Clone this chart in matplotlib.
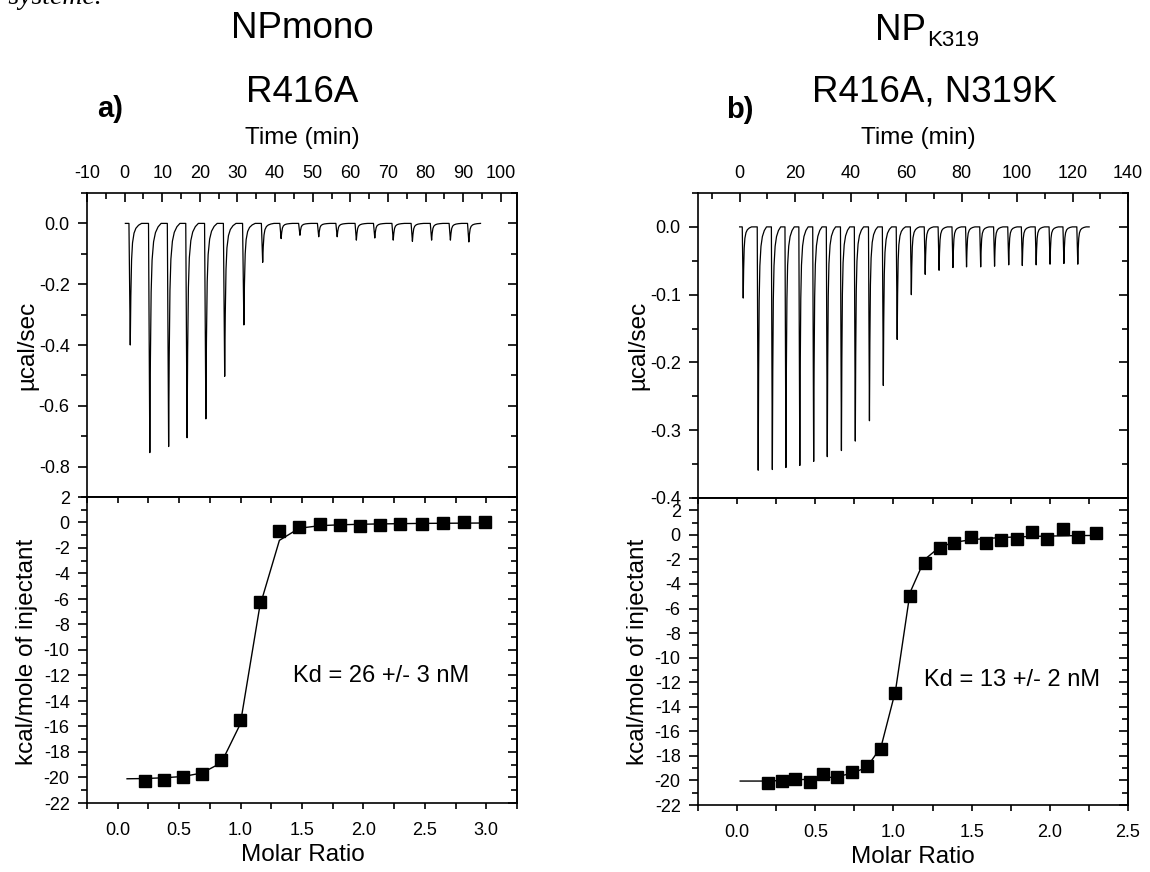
import matplotlib
matplotlib.use("Agg")
import matplotlib.pyplot as plt
from matplotlib.ticker import MultipleLocator

plt.rcParams['font.family'] = ['Liberation Sans', 'DejaVu Sans']
plt.rcParams['axes.unicode_minus'] = False

# ---------------- data ----------------
# panel a) raw thermogram: injection times (min) and peak depths (ucal/sec)
a_trace_span = [0.2, 94.6]
a_inj_time = [1.5, 6.7, 11.7, 16.6, 21.6, 26.6, 31.7, 36.7, 41.6, 46.6,
              51.6, 56.5, 61.6, 66.5, 71.4, 76.5, 81.6, 86.6, 91.5]
a_inj_depth = [-0.40, -0.754, -0.734, -0.705, -0.643, -0.503, -0.334, -0.128,
               -0.050, -0.039, -0.044, -0.044, -0.055, -0.048, -0.055, -0.059,
               -0.055, -0.055, -0.061]

# panel a) integrated heats
a_ratio = [0.226, 0.375, 0.533, 0.685, 0.843, 0.998, 1.156, 1.316, 1.477,
           1.645, 1.811, 1.974, 2.138, 2.301, 2.475, 2.646, 2.818, 2.986]
a_heat = [-20.3, -20.2, -19.95, -19.7, -18.6, -15.5, -6.2, -0.7, -0.37,
          -0.13, -0.18, -0.24, -0.18, -0.08, -0.08, -0.03, 0.05, 0.0]
a_fit_ratio = [0.076, 0.226, 0.375, 0.533, 0.685, 0.843, 0.998, 1.156, 1.316,
               1.477, 1.645, 1.811, 1.974, 2.138, 2.301, 2.475, 2.646, 2.818, 2.986]
a_fit_heat = [-20.1, -20.08, -20.02, -19.92, -19.65, -18.85, -15.8, -6.6, -1.4,
              -0.45, -0.25, -0.18, -0.14, -0.11, -0.09, -0.07, -0.06, -0.05, -0.04]

# panel b) raw thermogram
b_trace_span = [0.0, 126.0]
b_inj_time = [1.3, 6.7, 11.8, 16.7, 21.7, 26.7, 31.6, 36.7, 41.7, 46.8,
              51.8, 56.8, 61.9, 66.9, 71.9, 76.9, 81.8, 86.9, 91.9, 97.0,
              101.9, 106.9, 111.9, 116.9, 121.9]
b_inj_depth = [-0.105, -0.359, -0.358, -0.355, -0.352, -0.346, -0.339, -0.330,
               -0.316, -0.286, -0.234, -0.166, -0.100, -0.070, -0.064, -0.060,
               -0.059, -0.059, -0.058, -0.056, -0.057, -0.056, -0.055, -0.054,
               -0.055]

# panel b) integrated heats
b_ratio = [0.198, 0.287, 0.371, 0.466, 0.552, 0.642, 0.735, 0.828, 0.920,
           1.013, 1.106, 1.200, 1.295, 1.390, 1.498, 1.593, 1.688, 1.787,
           1.886, 1.985, 2.084, 2.183, 2.295]
b_heat = [-20.2, -20.05, -19.9, -20.1, -19.5, -19.7, -19.3, -18.85, -17.4,
          -12.9, -4.97, -2.3, -1.1, -0.7, -0.16, -0.63, -0.38, -0.33, 0.27,
          -0.3, 0.44, -0.14, 0.14]
b_fit_ratio = [0.02, 0.198, 0.287, 0.371, 0.466, 0.552, 0.642, 0.735, 0.828,
               0.920, 1.013, 1.106, 1.200, 1.295, 1.390, 1.498, 1.593, 1.688,
               1.787, 1.886, 1.985, 2.084, 2.183, 2.295]
b_fit_heat = [-20.05, -20.05, -20.0, -19.95, -19.9, -19.8, -19.7, -19.4, -18.95,
              -17.3, -12.7, -4.7, -2.0, -1.0, -0.6, -0.4, -0.3, -0.22, -0.17,
              -0.13, -0.1, -0.08, -0.06, -0.05]

# shape of one injection peak (minutes relative to peak, fraction of depth)
peak_offset = [-0.35, 0.0, 0.15, 0.35, 0.6, 1.0, 1.5, 2.2, 3.0]
peak_frac = [0.0, 1.0, 0.6, 0.3, 0.16, 0.08, 0.04, 0.015, 0.0]

titles_top = ["NPmono", "NP", "K319"]
titles_sub = ["R416A", "R416A, N319K"]
panel_tags = ["a)", "b)"]
kd_text = ["Kd = 26 +/- 3 nM", "Kd = 13 +/- 2 nM"]

# ---------------- figure ----------------
W, H = 1150, 872
fig = plt.figure(figsize=(W / 100, H / 100), dpi=100)


def rect(x0, y0, x1, y1):
    return [x0 / W, 1 - y1 / H, (x1 - x0) / W, (y1 - y0) / H]


def fx(x):
    return x / W


def fy(y):
    return 1 - y / H


def build_trace(span, times, depths):
    t, y = [span[0]], [0.0]
    for ti, di in zip(times, depths):
        for off, fr in zip(peak_offset, peak_frac):
            t.append(ti + off)
            y.append(di * fr)
    t.append(span[1])
    y.append(0.0)
    return t, y


TICK = 13
LW = 1.2
YMAJ, YMIN = 6.5, 4.0


def spines(ax):
    for s in ax.spines.values():
        s.set_linewidth(LW)


def right_ticks(ax):
    sec = ax.secondary_yaxis('right')
    sec.yaxis.set_major_locator(MultipleLocator(ax._ymaj))
    sec.yaxis.set_minor_locator(MultipleLocator(ax._ymin))
    sec.tick_params(which='both', direction='in', labelright=False, width=LW)
    sec.tick_params(which='major', length=YMAJ)
    sec.tick_params(which='minor', length=YMIN)
    sec.spines['right'].set_linewidth(LW)


def top_panel(box, trace, xlim, xmaj, xmin, ylim, ymaj, ymin):
    ax = fig.add_axes(rect(*box))
    t, y = trace
    ax.plot(t, y, color='black', lw=0.9)
    ax.set_xlim(xlim)
    ax.set_ylim(ylim)
    ax.xaxis.set_major_locator(MultipleLocator(xmaj))
    ax.xaxis.set_minor_locator(MultipleLocator(xmin))
    ax.yaxis.set_major_locator(MultipleLocator(ymaj))
    ax.yaxis.set_minor_locator(MultipleLocator(ymin))
    ax.yaxis.set_major_formatter(plt.FuncFormatter(lambda v, p: f"{v:.1f}"))
    ax.xaxis.set_major_formatter(plt.FuncFormatter(lambda v, p: f"{v:.0f}"))
    ax._ymaj, ax._ymin = ymaj, ymin
    spines(ax)
    ax.tick_params(axis='x', which='both', bottom=False, top=True,
                   labelbottom=False, labeltop=True, direction='in', pad=8,
                   labelsize=TICK, width=LW)
    ax.tick_params(axis='x', which='major', length=6.5)
    ax.tick_params(axis='x', which='minor', length=4)
    ax.tick_params(axis='y', which='both', left=True, right=False,
                   direction='out', pad=6, labelsize=TICK, width=LW)
    ax.tick_params(axis='y', which='major', length=YMAJ)
    ax.tick_params(axis='y', which='minor', length=YMIN)
    right_ticks(ax)
    return ax


def bottom_panel(box, xr, yr, fxr, fyr, xlim, ylim):
    ax = fig.add_axes(rect(*box))
    ax.plot(fxr, fyr, color='black', lw=1.0, zorder=2)
    ax.plot(xr, yr, linestyle='none', marker='s', ms=8.5, color='black', zorder=3)
    ax.set_xlim(xlim)
    ax.set_ylim(ylim)
    ax.xaxis.set_major_locator(MultipleLocator(0.5))
    ax.xaxis.set_minor_locator(MultipleLocator(0.25))
    ax.yaxis.set_major_locator(MultipleLocator(2))
    ax.yaxis.set_minor_locator(MultipleLocator(1))
    ax.xaxis.set_major_formatter(plt.FuncFormatter(lambda v, p: f"{v:.1f}"))
    ax.yaxis.set_major_formatter(plt.FuncFormatter(lambda v, p: f"{v:.0f}"))
    ax._ymaj, ax._ymin = 2, 1
    spines(ax)
    ax.tick_params(axis='x', which='both', direction='out', top=False, pad=9,
                   labelsize=TICK, width=LW, length=4.5)
    ax.tick_params(axis='y', which='both', direction='out', right=False, pad=6,
                   labelsize=TICK, width=LW)
    ax.tick_params(axis='y', which='major', length=YMAJ)
    ax.tick_params(axis='y', which='minor', length=YMIN)
    right_ticks(ax)
    sec = ax.secondary_xaxis('top')
    sec.xaxis.set_major_locator(MultipleLocator(0.5))
    sec.xaxis.set_minor_locator(MultipleLocator(0.25))
    sec.tick_params(which='both', direction='in', labeltop=False, width=LW,
                    length=4.5)
    sec.spines['top'].set_linewidth(LW)
    return ax


# ---- panel a ----
axa = top_panel((87, 193, 517, 497), build_trace(a_trace_span, a_inj_time, a_inj_depth),
                (-10, 104.3), 10, 5, (-0.9, 0.1), 0.2, 0.1)
axa_b = bottom_panel((87, 497, 517, 803), a_ratio, a_heat, a_fit_ratio, a_fit_heat,
                     (-0.25, 3.25), (-22, 2))
axa_b.text(1.43, -12.0, kd_text[0], fontsize=17, ha='left', va='center')

# ---- panel b ----
axb = top_panel((698, 193, 1128, 498), build_trace(b_trace_span, b_inj_time, b_inj_depth),
                (-15, 140), 20, 10, (-0.4, 0.05), 0.1, 0.05)
axb_b = bottom_panel((698, 498, 1128, 805), b_ratio, b_heat, b_fit_ratio, b_fit_heat,
                     (-0.25, 2.5), (-22, 3))
axb_b.text(1.196, -11.8, kd_text[1], fontsize=17, ha='left', va='center')

# ---- text labels ----
LAB = 17.5
fig.text(fx(302), fy(138), "Time (min)", fontsize=LAB, ha='center', va='center')
fig.text(fx(918), fy(138), "Time (min)", fontsize=LAB, ha='center', va='center')
fig.text(fx(303), fy(855), "Molar Ratio", fontsize=LAB, ha='center', va='center')
fig.text(fx(913), fy(857), "Molar Ratio", fontsize=LAB, ha='center', va='center')
for xc in (27, 638):
    fig.text(fx(xc), fy(345), "µcal/sec", fontsize=LAB, rotation=90,
             ha='center', va='center')
    fig.text(fx(xc), fy(652), "kcal/mole of injectant", fontsize=LAB, rotation=90,
             ha='center', va='center')

TT = 26.5
fig.text(fx(302), fy(38), titles_top[0], fontsize=TT, ha='center', va='baseline')
fig.text(fx(302), fy(102), titles_sub[0], fontsize=TT, ha='center', va='baseline')
fig.text(fx(110), fy(109), panel_tags[0], fontsize=21, fontweight='bold',
         ha='center', va='center')

fig.text(fx(926), fy(40), titles_top[1], fontsize=TT, ha='right', va='baseline')
fig.text(fx(927), fy(46), titles_top[2], fontsize=16, ha='left', va='baseline')
fig.text(fx(935), fy(102), titles_sub[1], fontsize=TT, ha='center', va='baseline')
fig.text(fx(740), fy(110), panel_tags[1], fontsize=21, fontweight='bold',
         ha='center', va='center')

# clipped fragment of page text in the corner
fig.text(fx(-11), fy(4.5), "e systeme.", fontsize=20, family='Liberation Serif',
         style='italic', ha='left', va='baseline')

fig.savefig("out.png", dpi=100)
